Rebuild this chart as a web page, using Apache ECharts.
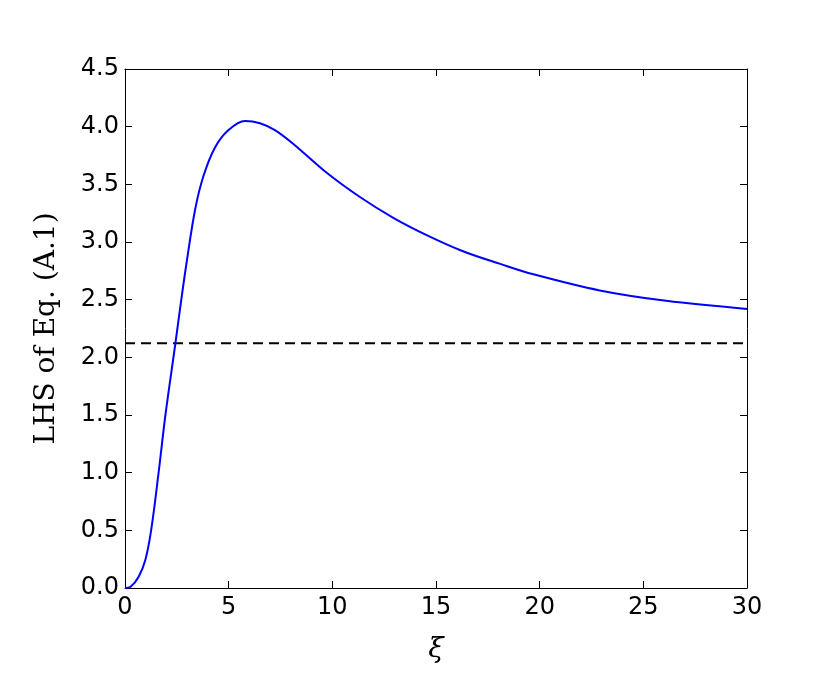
<!DOCTYPE html>
<html>
<head>
<meta charset="utf-8">
<script src="https://cdn.jsdelivr.net/npm/echarts@6/dist/echarts.min.js"></script>
<style>html,body{margin:0;padding:0;background:#fff}#c{width:830px;height:692px}</style>
</head>
<body>
<div id="c"></div>
<script>
// Data
const xi  = [0, 0.27, 0.66, 0.98, 1.26, 1.62, 1.95, 2.43, 2.70, 2.97, 3.38, 3.78, 4.34, 4.98, 5.79, 6.51, 7.23, 8.12, 9.73, 11.33, 12.94, 14.55, 16.3, 18.1, 19.7, 22.9, 26.1, 30];
const lhs = [0, 0.011, 0.098, 0.243, 0.5, 1.0, 1.5, 2.12, 2.48, 2.82, 3.28, 3.57, 3.82, 3.97, 4.05, 4.03, 3.97, 3.85, 3.60, 3.39, 3.21, 3.06, 2.92, 2.81, 2.72, 2.58, 2.49, 2.42];
const threshold = 2.1213;
const xRange = [0, 30];
const yRange = [0, 4.5];

const curve = xi.map((x, i) => [x, lhs[i]]);
const dashed = xRange.map(x => [x, threshold]);

const chart = echarts.init(document.getElementById('c'), null, {renderer: 'canvas'});
const tickFont = {fontFamily: 'DejaVu Sans', fontSize: 24, color: '#000'};
const axLine = {show: true, onZero: false, lineStyle: {color: '#000', width: 1}};
const tick = {show: true, inside: true, length: 7, lineStyle: {color: '#000', width: 1}};
chart.setOption({
  animation: false,
  backgroundColor: '#fff',
  grid: {left: 125, top: 69, width: 622, height: 519, containLabel: false},
  xAxis: [
    {type: 'value', min: xRange[0], max: xRange[1], interval: 5, position: 'bottom',
     axisLine: axLine, axisTick: tick, splitLine: {show: false},
     axisLabel: Object.assign({margin: 8}, tickFont),
     name: 'ξ', nameLocation: 'middle', nameGap: 48,
     nameTextStyle: {fontFamily: 'DejaVu Serif', fontStyle: 'italic', fontSize: 28, color: '#000'}},
    {type: 'value', min: xRange[0], max: xRange[1], interval: 5, position: 'top',
     axisLine: axLine, axisTick: tick, splitLine: {show: false}, axisLabel: {show: false}}
  ],
  yAxis: [
    {type: 'value', min: yRange[0], max: yRange[1], interval: 0.5, position: 'left',
     axisLine: axLine, axisTick: tick, splitLine: {show: false},
     axisLabel: Object.assign({margin: 6, formatter: v => v.toFixed(1)}, tickFont),
     name: 'LHS of Eq. (A.1)', nameLocation: 'middle', nameGap: 64,
     nameTextStyle: {fontFamily: 'DejaVu Serif', fontSize: 28, color: '#000'}},
    {type: 'value', min: yRange[0], max: yRange[1], interval: 0.5, position: 'right',
     axisLine: axLine, axisTick: tick, splitLine: {show: false}, axisLabel: {show: false}}
  ],
  series: [
    {type: 'line', data: curve, showSymbol: false, smooth: 0.35,
     lineStyle: {color: '#0000ff', width: 2}, z: 3},
    {type: 'line', data: dashed, showSymbol: false,
     lineStyle: {color: '#000', width: 2, type: [10, 6]}, z: 2}
  ]
});
</script>
</body>
</html>
